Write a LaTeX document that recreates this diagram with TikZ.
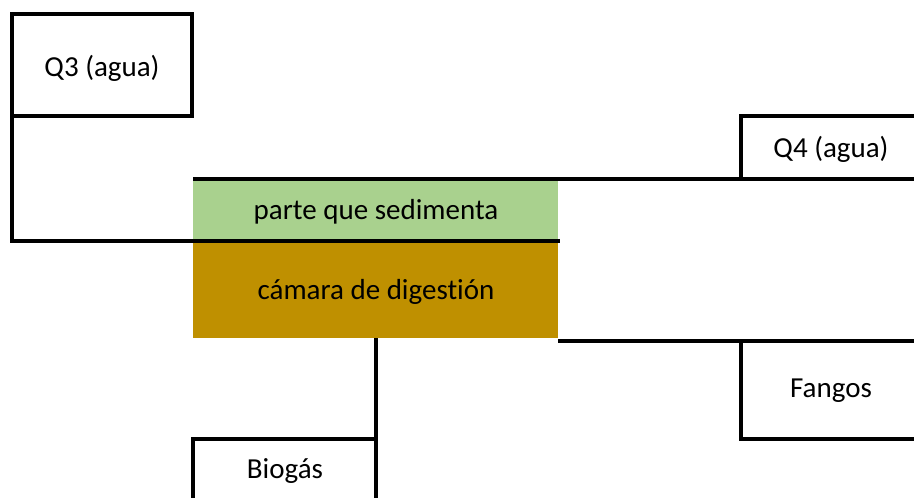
\documentclass[tikz,border=0pt]{standalone}
\usepackage{fontspec}
\setmainfont[Ligatures=NoCommon]{Carlito}
\definecolor{sedgreen}{HTML}{A9D18E}
\definecolor{digbrown}{HTML}{BF9000}
\begin{document}
\begin{tikzpicture}[x=1pt,y=-1pt,
  wall/.style={line width=4pt,line cap=rect},
  lbl/.style={inner sep=0pt,font=\fontsize{29}{34}\selectfont}]
\useasboundingbox (0,0) rectangle (914,498);
% fills
\fill[sedgreen] (193,180) rectangle (558,239);
\fill[digbrown] (193,243) rectangle (558,338);
% coordinates
\coordinate (q3tl) at (12,14);
\coordinate (q3tr) at (192,14);
\coordinate (q3br) at (192,116);
\coordinate (q3bl) at (12,116);
\coordinate (q3low) at (12,241);
\coordinate (sepR) at (558,241);
\coordinate (topL) at (195,179);
\coordinate (topR) at (916,179);
\coordinate (q4tl) at (741,116);
\coordinate (q4tr) at (916,116);
\coordinate (q4bl) at (741,179);
\coordinate (botL) at (560,341);
\coordinate (botR) at (916,341);
\coordinate (fgtl) at (741,341);
\coordinate (fgbl) at (741,439);
\coordinate (fgbr) at (916,439);
\coordinate (bgtop) at (376,340);
\coordinate (bgbot) at (376,500);
\coordinate (bgtl) at (193,439);
\coordinate (bgbl) at (193,500);
% outlines
\draw[wall] (q3tl) -- (q3tr) -- (q3br) -- (q3bl);
\draw[wall] (q3tl) -- (q3low) -- (sepR);
\draw[wall] (topL) -- (topR);
\draw[wall] (q4tr) -- (q4tl) -- (q4bl);
\draw[wall] (botL) -- (botR);
\draw[wall] (fgtl) -- (fgbl) -- (fgbr);
\draw[wall] (bgtop) -- (bgbot);
\draw[wall] (bgbl) -- (bgtl) -- (376,439);
% labels
\node[lbl] (q3) at (102,68) {Q3 (agua)};
\node[lbl] (q4) at (831,149) {Q4 (agua)};
\node[lbl] (sed) at (376,212) {parte que sedimenta};
\node[lbl] (dig) at (376,292) {cámara de digestión};
\node[lbl] (fang) at (831,391) {Fangos};
\node[lbl] (bio) at (285,471) {Biogás};
\end{tikzpicture}
\end{document}
